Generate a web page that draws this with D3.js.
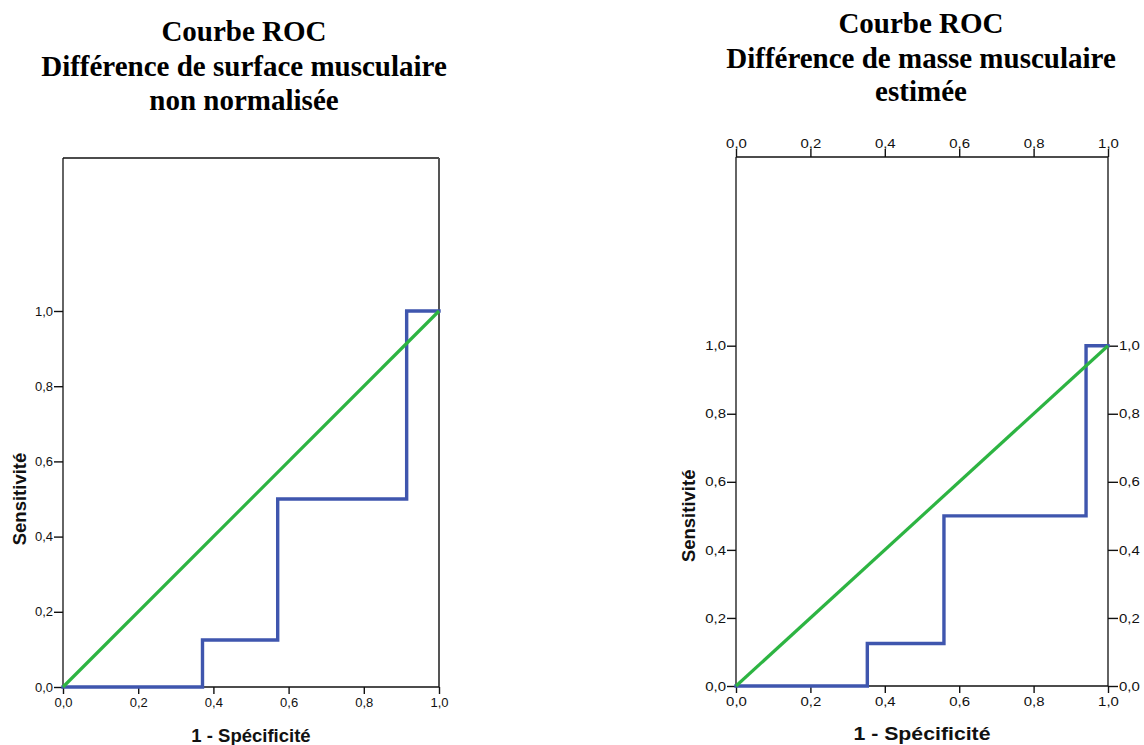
<!DOCTYPE html>
<html>
<head>
<meta charset="utf-8">
<script src="https://cdn.jsdelivr.net/npm/d3@7"></script>
<style>
  html, body { margin: 0; padding: 0; background: #fff; }
  svg { display: block; }
</style>
</head>
<body>
<svg id="chart" width="1144" height="745"></svg>
<script>
// ---- Data ----
const tickValues = [0, 0.2, 0.4, 0.6, 0.8, 1.0];
const tickLabels = ["0,0", "0,2", "0,4", "0,6", "0,8", "1,0"];

const titleLeft = ["Courbe ROC", "Différence de surface musculaire", "non normalisée"];
const titleRight = ["Courbe ROC", "Différence de masse musculaire", "estimée"];

const xTitle = "1 - Spécificité";
const yTitle = "Sensitivité";

// ROC curve (1 - specificity, sensitivity) — left chart
const fprLeft = [0, 0.371, 0.371, 0.571, 0.571, 0.914, 0.914, 1.0];
const tprLeft = [0, 0, 0.125, 0.125, 0.5, 0.5, 1.0, 1.0];

// ROC curve — right chart
const fprRight = [0, 0.353, 0.353, 0.559, 0.559, 0.941, 0.941, 1.0];
const tprRight = [0, 0, 0.125, 0.125, 0.5, 0.5, 1.0, 1.0];

// Reference diagonal
const refX = [0, 1];
const refY = [0, 1];

// ---- Drawing ----
const svg = d3.select("#chart");
const BLUE = "#3f56ae";
const GREEN = "#2db442";
const SANS = "'Liberation Sans', Arial, sans-serif";
const SERIF = "'Liberation Serif', 'Times New Roman', serif";

function fmt(d) { return tickLabels[tickValues.indexOf(d)]; }

function stretchText(sel, s) {
  if (s === 1) return;
  sel.each(function() {
    const t = d3.select(this);
    const x = +t.attr("x") || 0;
    t.attr("x", 0).attr("transform", `translate(${x},0) scale(${s},1)`);
  });
}

function drawChart(cfg) {
  const g = svg.append("g");
  const x = d3.scaleLinear().domain([0, 1]).range([cfg.x0, cfg.x1]);
  const y = d3.scaleLinear().domain([0, 1]).range([cfg.y0, cfg.y1]);

  // Title
  const tt = g.append("text")
    .attr("font-family", SERIF).attr("font-weight", "bold")
    .attr("font-size", cfg.titleSize).attr("text-anchor", "middle").attr("fill", "#000");
  cfg.title.forEach((line, i) => {
    tt.append("tspan").attr("x", cfg.titleX).attr("y", cfg.titleY[i]).text(line);
  });

  // Frame lines
  g.append("line").attr("x1", cfg.x0).attr("x2", cfg.x0).attr("y1", cfg.top).attr("y2", cfg.y0)
    .attr("stroke", "#111").attr("stroke-width", 1.3);
  g.append("line").attr("x1", cfg.x0).attr("x2", cfg.x1).attr("y1", cfg.top).attr("y2", cfg.top)
    .attr("stroke", "#111").attr("stroke-width", 1.3);
  g.append("line").attr("x1", cfg.x1).attr("x2", cfg.x1).attr("y1", cfg.top).attr("y2", cfg.y0)
    .attr("stroke", cfg.rightColor).attr("stroke-width", cfg.rightWidth);

  function styleAxis(a, s) {
    a.select(".domain").remove();
    a.selectAll(".tick line").attr("stroke", "#111").attr("stroke-width", 1.4);
    a.selectAll(".tick text").attr("fill", "#111")
      .attr("font-family", SANS).attr("font-size", cfg.tickSize);
    stretchText(a.selectAll(".tick text"), s);
  }

  // Bottom axis
  const bx = g.append("g").attr("transform", `translate(0,${cfg.y0})`)
    .call(d3.axisBottom(x).tickValues(tickValues).tickFormat(fmt).tickSize(7).tickPadding(4).tickSizeOuter(0));
  styleAxis(bx, cfg.sx);
  g.append("line").attr("x1", cfg.x0).attr("x2", cfg.x1).attr("y1", cfg.y0).attr("y2", cfg.y0)
    .attr("stroke", "#111").attr("stroke-width", 1.3);

  // Left axis
  const ly = g.append("g").attr("transform", `translate(${cfg.x0},0)`)
    .call(d3.axisLeft(y).tickValues(tickValues).tickFormat(fmt).tickSize(9).tickPadding(1).tickSizeOuter(0));
  styleAxis(ly, cfg.sx);

  if (cfg.mirror) {
    const tx = g.append("g").attr("transform", `translate(0,${cfg.top})`)
      .call(d3.axisTop(x).tickValues(tickValues).tickFormat(fmt).tickSize(8).tickPadding(1).tickSizeOuter(0));
    styleAxis(tx, cfg.sx);
    const ry = g.append("g").attr("transform", `translate(${cfg.x1},0)`)
      .call(d3.axisRight(y).tickValues(tickValues).tickFormat(fmt).tickSize(10).tickPadding(1).tickSizeOuter(0));
    styleAxis(ry, cfg.sx);
  }

  // Axis titles
  const xt = g.append("text").attr("x", (cfg.x0 + cfg.x1) / 2).attr("y", cfg.xTitleY)
    .attr("text-anchor", "middle").attr("font-family", SANS).attr("font-weight", "bold")
    .attr("font-size", cfg.axisTitleSize).attr("fill", "#111").text(xTitle);
  stretchText(xt, cfg.sx);
  g.append("text")
    .attr("transform", `translate(${cfg.yTitleX},${(cfg.y0 + cfg.y1) / 2}) rotate(-90)`)
    .attr("text-anchor", "middle").attr("font-family", SANS).attr("font-weight", "bold")
    .attr("font-size", cfg.axisTitleSize).attr("fill", "#111").text(yTitle);

  // ROC step curve
  const line = d3.line().x(d => x(d[0])).y(d => y(d[1]));
  const pts = cfg.fpr.map((v, i) => [v, cfg.tpr[i]]);
  g.append("path").datum(pts).attr("d", line)
    .attr("fill", "none").attr("stroke", BLUE).attr("stroke-width", 3.4)
    .attr("stroke-linejoin", "miter").attr("stroke-linecap", "square");

  // Reference line
  const ref = refX.map((v, i) => [v, refY[i]]);
  g.append("path").datum(ref).attr("d", line)
    .attr("fill", "none").attr("stroke", GREEN).attr("stroke-width", 3.2);
}

drawChart({
  x0: 63, x1: 439, y0: 687, y1: 311, top: 158,
  title: titleLeft, titleX: 244, titleY: [41, 76, 110], titleSize: 29,
  fpr: fprLeft, tpr: tprLeft,
  rightColor: "#555", rightWidth: 2,
  tickSize: 13, sx: 1, axisTitleSize: 18.5,
  xTitleY: 742, yTitleX: 26, mirror: false
});

drawChart({
  x0: 736, x1: 1108, y0: 686, y1: 345.7, top: 157,
  title: titleRight, titleX: 921, titleY: [33, 68, 101], titleSize: 29,
  fpr: fprRight, tpr: tprRight,
  rightColor: "#222", rightWidth: 1.4,
  tickSize: 13, sx: 1.15, axisTitleSize: 18.5,
  xTitleY: 740, yTitleX: 695, mirror: true
});
</script>
</body>
</html>
